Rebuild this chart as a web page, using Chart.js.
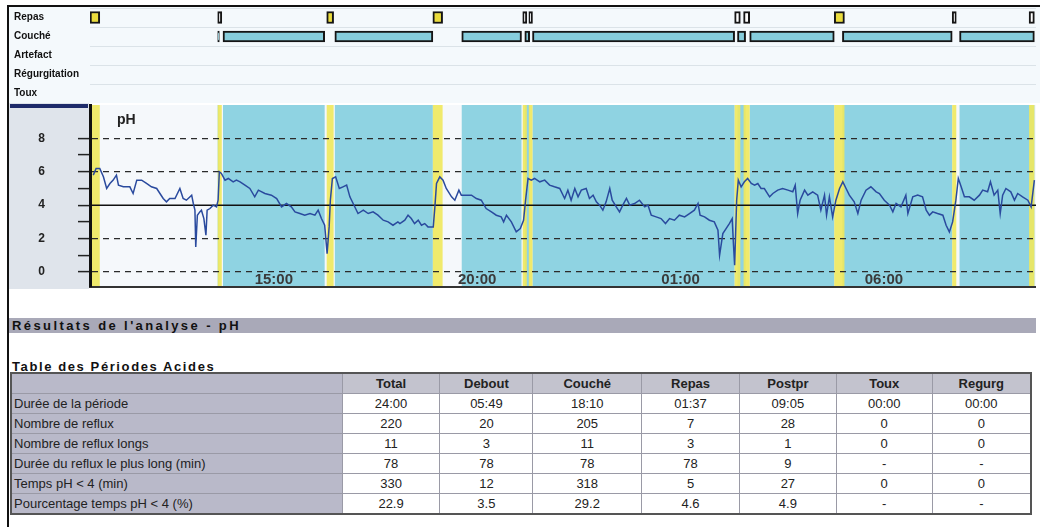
<!DOCTYPE html>
<html>
<head>
<meta charset="utf-8">
<title>pH-métrie 24h</title>
<script src="https://cdn.jsdelivr.net/npm/chart.js"></script>
<style>
  body { margin: 0; background: #fff; font-family: Arial, "Liberation Sans", sans-serif; }
  .abs { position: absolute; }
  #frame { left: 7px; top: 5px; width: 1040px; height: 530px; border-left: 2px solid #111; border-top: 2px solid #111; }
  #trackBg { left: 9px; top: 7px; width: 1031px; height: 96px; background: #f4f9fc; }
  #phPanel { left: 9px; top: 103px; width: 80px; height: 186px; background: #dfe4eb; }
  #navy { left: 10px; top: 104px; width: 78px; height: 4px; background: #1e2b6a; }
  #phLabel { left: 117px; top: 111px; font-size: 14px; font-weight: bold; color: #222; }
  #resBar { left: 9px; top: 318px; width: 1027px; height: 15px; background: #a9a9b8; font-size: 13px; font-weight: bold; color: #111; line-height: 15px; padding-left: 3px; box-sizing: border-box; letter-spacing: 2.4px; }
  #tableTitle { left: 12px; top: 359px; font-size: 13px; font-weight: bold; color: #111; letter-spacing: 1.6px; }
  #acid { left: 10px; top: 372px; width: 1022px; border-collapse: collapse; border: 2px solid #555; font-size: 13px; color: #222; }
  #acid td, #acid th { border: 1px solid #9a9aa6; height: 19px; line-height: 17px; padding: 0 3px; }
  #acid th { background: #c3c3ce; font-weight: bold; text-align: center; }
  #acid td { background: #fff; text-align: center; }
  #acid td.lbl, #acid th.lbl { background: #b9b9c9; text-align: left; padding-left: 2px; }
</style>
</head>
<body>
<div id="frame" class="abs"></div>
<div id="trackBg" class="abs"></div>
<canvas id="tracks" class="abs" width="1027" height="95" style="left:9px;top:8px"></canvas>
<div id="phPanel" class="abs"></div>
<div id="navy" class="abs"></div>
<canvas id="ph" class="abs" width="1027" height="186" style="left:9px;top:103px"></canvas>
<div id="phLabel" class="abs">pH</div>
<div id="resBar" class="abs">Résultats de l'analyse - pH</div>
<div id="tableTitle" class="abs">Table des Périodes Acides</div>
<table id="acid" class="abs"></table>

<script>
// time in hours (clock hours, continuing past midnight: 25 = 01:00)
const tMin = 10.48;
const tMax = 33.74;
const timeTicks = [15, 20, 25, 30];
const timeLabels = ['15:00', '20:00', '01:00', '06:00'];
const phTicks = [0, 1, 2, 3, 4, 5, 6, 7, 8];
const acidLimit = 4;

const trackRows = ['Repas', 'Couché', 'Artefact', 'Régurgitation', 'Toux'];

// periods [start, end] in hours
const meals = [
    [10.48, 10.72], [13.62, 13.72], [16.30, 16.47], [18.91, 19.15], [21.12, 21.22],
    [21.27, 21.36], [26.33, 26.47], [26.55, 26.70], [28.78, 29.03], [31.68, 31.78], [33.57, 33.70]
];
const supine = [
    [13.62, 13.66], [13.75, 16.25], [16.50, 18.91], [19.62, 21.09], [21.17, 21.29],
    [21.36, 26.33], [26.40, 26.60], [26.70, 28.78], [28.98, 31.68], [31.86, 33.70]
];

const phTimes = [
    10.56, 10.63, 10.72, 10.81, 10.89, 10.97, 11.05, 11.13, 11.18, 11.30, 11.46, 11.54, 11.63, 11.75, 11.87, 11.99,
    12.12, 12.20, 12.28, 12.36, 12.44, 12.57, 12.69, 12.77, 12.85, 12.98, 13.02, 13.06, 13.08, 13.12, 13.18, 13.22,
    13.28, 13.33, 13.36, 13.43, 13.51, 13.59, 13.63, 13.66, 13.71, 13.80, 13.88, 14.00, 14.08, 14.17, 14.29, 14.41,
    14.53, 14.62, 14.78, 14.94, 15.07, 15.19, 15.31, 15.43, 15.52, 15.64, 15.76, 15.89, 16.01, 16.09, 16.17, 16.25,
    16.31, 16.36, 16.39, 16.44, 16.52, 16.61, 16.70, 16.79, 16.87, 16.95, 17.07, 17.20, 17.32, 17.44, 17.56, 17.69,
    17.81, 17.93, 18.05, 18.10, 18.22, 18.30, 18.38, 18.46, 18.55, 18.63, 18.71, 18.79, 18.92, 18.96, 19.00, 19.08,
    19.16, 19.24, 19.37, 19.45, 19.55, 19.61, 19.73, 19.86, 19.98, 20.10, 20.22, 20.35, 20.47, 20.59, 20.65, 20.72,
    20.84, 20.96, 21.06, 21.14, 21.19, 21.25, 21.33, 21.41, 21.54, 21.66, 21.78, 21.90, 22.03, 22.15, 22.23, 22.31,
    22.40, 22.48, 22.56, 22.68, 22.76, 22.85, 22.93, 23.01, 23.09, 23.17, 23.26, 23.32, 23.42, 23.50, 23.58, 23.67,
    23.75, 23.87, 23.99, 24.12, 24.20, 24.28, 24.40, 24.52, 24.63, 24.73, 24.85, 24.97, 25.10, 25.22, 25.34, 25.43,
    25.48, 25.59, 25.71, 25.83, 25.92, 25.96, 26.04, 26.12, 26.20, 26.27, 26.30, 26.33, 26.38, 26.42, 26.49, 26.57,
    26.65, 26.74, 26.82, 26.90, 26.98, 27.06, 27.19, 27.27, 27.39, 27.51, 27.64, 27.76, 27.82, 27.88, 27.94, 28.05,
    28.13, 28.25, 28.37, 28.45, 28.54, 28.59, 28.66, 28.74, 28.82, 28.91, 28.99, 29.07, 29.15, 29.27, 29.36, 29.44,
    29.56, 29.68, 29.81, 29.89, 30.01, 30.14, 30.22, 30.30, 30.42, 30.54, 30.59, 30.71, 30.83, 30.95, 31.04, 31.12,
    31.20, 31.32, 31.45, 31.53, 31.61, 31.69, 31.77, 31.83, 31.90, 31.98, 32.10, 32.22, 32.35, 32.43, 32.55, 32.62,
    32.71, 32.80, 32.86, 32.92, 33.00, 33.12, 33.21, 33.29, 33.41, 33.54, 33.62, 33.70
];
const phValues = [
    5.8, 6.2, 6.2, 5.7, 5.0, 5.3, 5.5, 5.8, 5.2, 5.1, 5.1, 4.7, 5.5, 5.5, 5.3, 5.1,
    5.0, 4.7, 4.4, 4.2, 4.4, 4.4, 5.0, 4.4, 4.3, 4.6, 4.1, 3.7, 1.5, 3.4, 3.6, 3.7,
    3.2, 2.2, 3.7, 3.8, 4.0, 3.9, 4.3, 6.0, 5.9, 5.5, 5.6, 5.4, 5.5, 5.4, 5.2, 5.0,
    4.5, 4.9, 4.7, 4.6, 4.4, 3.9, 4.1, 3.9, 3.6, 3.5, 3.4, 3.5, 3.4, 3.7, 3.2, 2.8,
    1.1, 2.7, 4.3, 5.6, 5.7, 5.0, 5.1, 5.2, 4.5, 4.1, 3.5, 3.7, 3.5, 3.6, 3.4, 3.1,
    3.0, 2.8, 3.0, 2.9, 3.1, 3.4, 3.2, 2.9, 3.1, 2.8, 2.9, 2.7, 2.7, 3.9, 5.3, 5.7,
    5.5, 5.0, 4.5, 4.3, 4.9, 4.6, 4.6, 4.6, 4.4, 4.3, 3.8, 3.6, 3.4, 3.3, 3.0, 3.4,
    3.0, 2.4, 2.6, 3.1, 4.3, 5.6, 5.5, 5.6, 5.4, 5.5, 5.2, 5.1, 5.0, 4.4, 4.9, 4.3,
    5.0, 4.5, 4.9, 5.0, 4.4, 4.6, 4.2, 4.0, 3.7, 4.2, 5.0, 4.3, 3.9, 3.6, 4.0, 4.4,
    4.0, 4.1, 4.3, 3.9, 4.0, 3.4, 3.3, 3.2, 2.9, 3.2, 3.1, 3.4, 3.3, 3.5, 3.7, 4.1,
    3.4, 3.3, 3.1, 3.0, 2.5, 1.0, 2.3, 2.6, 2.9, 3.2, 1.7, 0.4, 4.3, 5.5, 5.1, 5.4,
    5.6, 5.3, 5.2, 5.3, 5.0, 5.0, 4.5, 4.7, 4.9, 5.0, 4.9, 4.8, 5.2, 3.5, 4.3, 4.9,
    4.6, 4.8, 4.6, 3.7, 4.6, 3.4, 4.5, 3.3, 4.3, 5.0, 5.4, 5.0, 4.6, 4.2, 3.5, 4.3,
    4.9, 5.1, 4.8, 4.7, 4.3, 4.0, 3.6, 4.1, 3.9, 4.6, 3.5, 4.5, 4.6, 4.5, 3.7, 3.4,
    3.6, 3.5, 3.4, 2.8, 2.4, 3.0, 4.3, 5.6, 5.1, 4.5, 4.5, 4.3, 4.6, 4.9, 4.8, 5.4,
    4.6, 4.9, 3.5, 4.6, 5.0, 4.8, 4.3, 4.7, 4.5, 4.3, 3.9, 5.5
];

// table
const tableCols = ['Total', 'Debout', 'Couché', 'Repas', 'Postpr', 'Toux', 'Regurg'];
const tableRows = [
    'Durée de la période',
    'Nombre de reflux',
    'Nombre de reflux longs',
    'Durée du reflux le plus long (min)',
    'Temps pH < 4 (min)',
    'Pourcentage temps pH < 4 (%)'
];
const dureePeriode = ['24:00', '05:49', '18:10', '01:37', '09:05', '00:00', '00:00'];
const nbReflux = ['220', '20', '205', '7', '28', '0', '0'];
const nbRefluxLongs = ['11', '3', '11', '3', '1', '0', '0'];
const dureeRefluxMax = ['78', '78', '78', '78', '9', '-', '-'];
const tempsAcide = ['330', '12', '318', '5', '27', '0', '0'];
const pctAcide = ['22.9', '3.5', '29.2', '4.6', '4.9', '-', '-'];
const tableValues = [dureePeriode, nbReflux, nbRefluxLongs, dureeRefluxMax, tempsAcide, pctAcide];

const colWidths = [332, 98, 93, 109, 98, 97, 96, 99];

// build table
const table = document.getElementById('acid');
let html = '<colgroup>' + colWidths.map(w => '<col style="width:' + w + 'px">').join('') + '</colgroup>';
html += '<tr><th class="lbl"></th>' + tableCols.map(c => '<th>' + c + '</th>').join('') + '</tr>';
tableRows.forEach((r, i) => {
    html += '<tr><td class="lbl">' + r.replace('<', '&lt;') + '</td>' +
        tableValues[i].map(v => '<td>' + v + '</td>').join('') + '</tr>';
});
table.innerHTML = html;

Chart.defaults.font.family = 'Arial, "Liberation Sans", sans-serif';

// drop the label overhang padding so the plot fills the box
function noPad(s) {
    s.paddingTop = 0;
    s.paddingBottom = 0;
    s.paddingLeft = 0;
    s.paddingRight = 0;
}

// event tracks
new Chart(document.getElementById('tracks'), {
    type: 'bar',
    data: {
        datasets: [
            {
                label: 'Repas',
                data: meals.map(m => ({ x: m, y: 'Repas' })),
                backgroundColor: ctx => {
                    const m = meals[ctx.dataIndex];
                    return m && (m[1] - m[0]) > 0.15 ? '#eadc3c' : '#ffffff';
                },
                borderColor: '#151515',
                borderWidth: 2,
                borderSkipped: false,
                barThickness: 12,
                grouped: false
            },
            {
                label: 'Couché',
                data: supine.map(s => ({ x: s, y: 'Couché' })),
                backgroundColor: '#86cddc',
                borderColor: '#151515',
                borderWidth: 2,
                borderSkipped: false,
                barThickness: 11,
                grouped: false
            }
        ]
    },
    options: {
        indexAxis: 'y',
        responsive: false,
        animation: false,
        layout: { padding: { left: 5, right: 0, top: 0, bottom: 0 } },
        plugins: { legend: { display: false }, tooltip: { enabled: false } },
        scales: {
            x: { type: 'linear', min: tMin, max: tMax, display: false },
            y: {
                type: 'category',
                labels: trackRows,
                offset: true,
                grid: { offset: true, color: '#dbe3e8', drawTicks: false },
                border: { display: false },
                ticks: { crossAlign: 'far', padding: 0, color: '#111', font: { size: 10, weight: 'bold' } },
                afterFit: s => { s.width = 76; noPad(s); }
            }
        }
    }
});

// shaded periods behind the pH trace
const bandsPlugin = {
    id: 'bands',
    beforeDraw(chart) {
        const { ctx, chartArea: a, scales: { x } } = chart;
        ctx.save();
        ctx.fillStyle = '#f5f8fb';
        ctx.fillRect(a.left, a.top, a.width, a.height);
        const fill = (list, color) => {
            ctx.fillStyle = color;
            list.forEach(p => {
                const x0 = Math.max(a.left, x.getPixelForValue(p[0]));
                const x1 = Math.min(a.right, x.getPixelForValue(p[1]));
                ctx.fillRect(x0, a.top, x1 - x0, a.height);
            });
        };
        fill(supine, '#8fd3e2');
        fill(meals, 'rgba(240, 232, 92, 0.9)');
        ctx.restore();
    }
};

new Chart(document.getElementById('ph'), {
    type: 'line',
    data: {
        datasets: [
            {
                label: 'pH',
                data: phTimes.map((t, i) => ({ x: t, y: phValues[i] })),
                borderColor: '#2a4a9e',
                borderWidth: 1.5,
                pointRadius: 0,
                tension: 0
            },
            {
                label: 'seuil',
                data: [{ x: tMin, y: acidLimit }, { x: tMax, y: acidLimit }],
                borderColor: '#111',
                borderWidth: 1.5,
                pointRadius: 0
            }
        ]
    },
    options: {
        responsive: false,
        animation: false,
        layout: { padding: { top: 2, right: 0, left: 0, bottom: 0 } },
        plugins: { legend: { display: false }, tooltip: { enabled: false } },
        scales: {
            x: {
                type: 'linear',
                min: tMin,
                max: tMax,
                grid: { display: false },
                border: { display: true, color: '#333', width: 2 },
                afterBuildTicks: s => { s.ticks = timeTicks.map(v => ({ value: v })); },
                ticks: {
                    autoSkip: false,
                    maxRotation: 0,
                    mirror: true,
                    padding: -2,
                    color: '#3a3a3a',
                    font: { size: 15, weight: 'bold' },
                    callback: v => timeLabels[timeTicks.indexOf(v)]
                },
                afterFit: s => { s.height = 2; noPad(s); }
            },
            y: {
                min: -0.9,
                max: 10,
                afterBuildTicks: s => { s.ticks = phTicks.map(v => ({ value: v })); },
                grid: {
                    color: c => (c.tick && c.tick.value % 2 === 0 && c.tick.value !== acidLimit) ? '#2b2b2b' : 'rgba(0,0,0,0)',
                    lineWidth: 1.2,
                    tickLength: 12,
                    tickColor: '#222',
                    tickWidth: 1.5
                },
                border: { display: true, color: '#111', width: 3, dash: [6, 5] },
                ticks: {
                    autoSkip: false,
                    padding: 33,
                    color: '#222',
                    font: { size: 12, weight: 'bold' },
                    callback: v => (v % 2 === 0 ? String(v) : '')
                },
                afterFit: s => { s.width = 81; noPad(s); }
            }
        }
    },
    plugins: [bandsPlugin]
});
</script>
</body>
</html>
